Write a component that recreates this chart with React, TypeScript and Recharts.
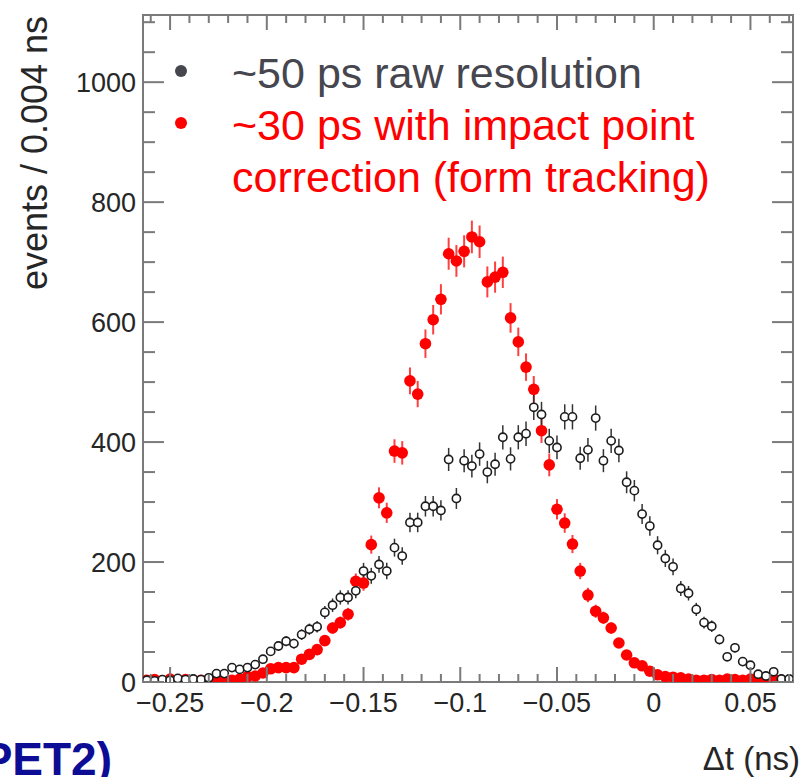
import React from "react";
import { ScatterChart, Scatter, XAxis, YAxis, ErrorBar, ReferenceArea } from "recharts";

// ---- data ----
const BIN_CENTERS = [
  -0.262, -0.258, -0.254, -0.25, -0.246, -0.242, -0.238, -0.234, -0.23, -0.226,
  -0.222, -0.218, -0.214, -0.21, -0.206, -0.202, -0.198, -0.194, -0.19, -0.186,
  -0.182, -0.178, -0.174, -0.17, -0.166, -0.162, -0.158, -0.154, -0.15, -0.146,
  -0.142, -0.138, -0.134, -0.13, -0.126, -0.122, -0.118, -0.114, -0.11, -0.106,
  -0.102, -0.098, -0.094, -0.09, -0.086, -0.082, -0.078, -0.074, -0.07, -0.066,
  -0.062, -0.058, -0.054, -0.05, -0.046, -0.042, -0.038, -0.034, -0.03, -0.026,
  -0.022, -0.018, -0.014, -0.01, -0.006, -0.002, 0.002, 0.006, 0.01, 0.014,
  0.018, 0.022, 0.026, 0.03, 0.034, 0.038, 0.042, 0.046, 0.05, 0.054,
  0.058, 0.062, 0.066, 0.07,
];

// ~30 ps, with impact point correction (red, filled)
const CORRECTED = [
  3, 4, 2, 5, 3, 4, 2, 3, 4, 2,
  6, 3, 5, 9, 10, 15, 22, 24, 24, 24,
  38, 46, 54, 69, 90, 99, 113, 168, 165, 229,
  307, 282, 385, 382, 502, 480, 564, 604, 638, 714,
  702, 718, 742, 734, 667, 675, 683, 607, 567, 525,
  488, 419, 362, 288, 265, 230, 185, 145, 118, 107,
  90, 65, 45, 32, 27, 18, 12, 9, 8, 7,
  5, 3, 3, 4, 3, 5, 4, 3, 5, 6,
  4, 5, 3, 2,
];

// ~50 ps raw resolution (black, open)
const RAW = [
  3, 2, 4, 3, 6, 4, 5, 4, 7, 14,
  14, 24, 21, 24, 29, 38, 51, 60, 68, 64,
  79, 88, 92, 116, 128, 141, 141, 152, 185, 177,
  196, 185, 224, 210, 266, 266, 293, 293, 286, 371,
  306, 369, 360, 380, 350, 363, 408, 372, 408, 414,
  458, 446, 402, 391, 442, 442, 373, 387, 440, 369,
  402, 386, 333, 319, 280, 260, 228, 206, 192, 156,
  148, 121, 99, 93, 71, 42, 57, 34, 28, 13,
  10, 17, 5, 5,
];

const X_MAJOR = [-0.25, -0.2, -0.15, -0.1, -0.05, 0, 0.05];
const X_MAJOR_LABELS = ["\u22120.25", "\u22120.2", "\u22120.15", "\u22120.1", "\u22120.05", "0", "0.05"];
const X_MINOR = [
  -0.26, -0.24, -0.23, -0.22, -0.21, -0.19, -0.18, -0.17, -0.16, -0.14, -0.13, -0.12, -0.11,
  -0.09, -0.08, -0.07, -0.06, -0.04, -0.03, -0.02, -0.01, 0.01, 0.02, 0.03, 0.04, 0.06, 0.07,
];
const Y_MAJOR = [0, 200, 400, 600, 800, 1000];
const Y_MAJOR_LABELS = ["0", "200", "400", "600", "800", "1000"];
const Y_MINOR = [50, 100, 150, 250, 300, 350, 450, 500, 550, 650, 700, 750, 850, 900, 950, 1050, 1100];

const X_DOMAIN: [number, number] = [-0.264, 0.072];
const Y_DOMAIN: [number, number] = [0, 1112];

const LEGEND_RAW = "~50 ps raw resolution";
const LEGEND_CORR_1 = "~30 ps with impact point";
const LEGEND_CORR_2 = "correction (form tracking)";
const Y_TITLE = "events / 0.004 ns";
const X_TITLE = "\u0394t (ns)";
const CORNER_TEXT = "PET2)";

// ---- layout / style ----
const W = 802;
const H = 777;
const AXIS_SIZE = 1;
const MARGIN = { top: 15, right: 9, bottom: 95 - AXIS_SIZE, left: 143 - AXIS_SIZE };
const FRAME = "#7a7a7a";
const FONT = "'Liberation Sans', Arial, Helvetica, sans-serif";
const TICK_TEXT = "#262626";
const TICK_FONT = 27;

const redData = BIN_CENTERS.map((x, i) => ({ x, y: CORRECTED[i], err: Math.sqrt(CORRECTED[i]) }));
const rawData = BIN_CENTERS.map((x, i) => ({ x, y: RAW[i], err: Math.sqrt(RAW[i]) }));

const findIdx = (arr: number[], v: number) => arr.findIndex((a) => Math.abs(a - v) < 1e-9);

const XTick = (props: any) => {
  const { x, y, payload } = props;
  const idx = findIdx(X_MAJOR, payload.value);
  const major = idx >= 0;
  const len = major ? 15 : 8;
  return (
    <g>
      <line x1={x} y1={y} x2={x} y2={y - len} stroke={FRAME} strokeWidth={2} />
      <line x1={x} y1={MARGIN.top} x2={x} y2={MARGIN.top + len} stroke={FRAME} strokeWidth={2} />
      {major && (
        <text x={x} y={y + 30} textAnchor="middle" fontSize={TICK_FONT} fontFamily={FONT} fill={TICK_TEXT}>
          {X_MAJOR_LABELS[idx]}
        </text>
      )}
    </g>
  );
};

const YTick = (props: any) => {
  const { x, y, payload } = props;
  const idx = findIdx(Y_MAJOR, payload.value);
  const major = idx >= 0;
  const len = major ? 21 : 12;
  const right = W - MARGIN.right;
  return (
    <g>
      <line x1={x} y1={y} x2={x + len} y2={y} stroke={FRAME} strokeWidth={2} />
      <line x1={right} y1={y} x2={right - len} y2={y} stroke={FRAME} strokeWidth={2} />
      {major && (
        <text x={x - 7} y={y + 9.5} textAnchor="end" fontSize={TICK_FONT} fontFamily={FONT} fill={TICK_TEXT}>
          {Y_MAJOR_LABELS[idx]}
        </text>
      )}
    </g>
  );
};

const RedDot = (props: any) => <circle cx={props.cx} cy={props.cy} r={5.8} fill="#ff0000" />;
const OpenDot = (props: any) => (
  <circle cx={props.cx} cy={props.cy} r={4.1} fill="#ffffff" stroke="#1c1c1c" strokeWidth={1.6} />
);

export default function App() {
  return (
    <div style={{ position: "absolute", left: 0, top: 0, width: W, height: H, background: "#fff" }}>
      <ScatterChart width={W} height={H} margin={MARGIN}>
        <XAxis
          type="number"
          dataKey="x"
          domain={X_DOMAIN}
          ticks={[...X_MAJOR, ...X_MINOR].sort((a, b) => a - b)}
          interval={0}
          tick={(p: any) => <XTick {...p} />}
          tickLine={false}
          tickSize={0}
          tickMargin={0}
          height={AXIS_SIZE}
          axisLine={{ stroke: FRAME, strokeWidth: 2 }}
          allowDataOverflow
        />
        <YAxis
          type="number"
          dataKey="y"
          domain={Y_DOMAIN}
          ticks={[...Y_MAJOR, ...Y_MINOR].sort((a, b) => a - b)}
          interval={0}
          tick={(p: any) => <YTick {...p} />}
          tickLine={false}
          tickSize={0}
          tickMargin={0}
          width={AXIS_SIZE}
          axisLine={{ stroke: FRAME, strokeWidth: 2 }}
          allowDataOverflow
        />
        <ReferenceArea
          x1={X_DOMAIN[0]}
          x2={X_DOMAIN[1]}
          y1={Y_DOMAIN[0]}
          y2={Y_DOMAIN[1]}
          fill="none"
          fillOpacity={0}
          stroke={FRAME}
          strokeWidth={2}
          ifOverflow="visible"
        />
        <Scatter data={redData} shape={RedDot} isAnimationActive={false}>
          <ErrorBar dataKey="err" direction="y" width={0} stroke="#ff4040" strokeWidth={2} isAnimationActive={false} />
        </Scatter>
        <Scatter data={rawData} shape={OpenDot} isAnimationActive={false}>
          <ErrorBar dataKey="err" direction="y" width={0} stroke="#333333" strokeWidth={1.5} isAnimationActive={false} />
        </Scatter>
      </ScatterChart>
      <svg
        width={W}
        height={H}
        style={{ position: "absolute", left: 0, top: 0, pointerEvents: "none", overflow: "hidden" }}
      >
        <text
          x={47}
          y={153}
          transform="rotate(-90, 47, 153)"
          textAnchor="middle"
          fontSize={36}
          fontFamily={FONT}
          fill={TICK_TEXT}
        >
          {Y_TITLE}
        </text>
        <text x={800} y={770} textAnchor="end" fontSize={33} fontFamily={FONT} fill={TICK_TEXT}>
          {X_TITLE}
        </text>
        <text x={112} y={775} textAnchor="end" fontSize={46} fontWeight="bold" fontFamily={FONT} fill="#0c0c94">
          {CORNER_TEXT}
        </text>
        <circle cx={181} cy={71} r={6} fill="#46464f" />
        <circle cx={181} cy={123} r={6} fill="#ff0000" />
        <text x={232} y={88} fontSize={43} fontFamily={FONT} fill="#46464f">
          {LEGEND_RAW}
        </text>
        <text x={232} y={140} fontSize={43} fontFamily={FONT} fill="#ff0000">
          {LEGEND_CORR_1}
        </text>
        <text x={232} y={192} fontSize={43} fontFamily={FONT} fill="#ff0000">
          {LEGEND_CORR_2}
        </text>
      </svg>
    </div>
  );
}
